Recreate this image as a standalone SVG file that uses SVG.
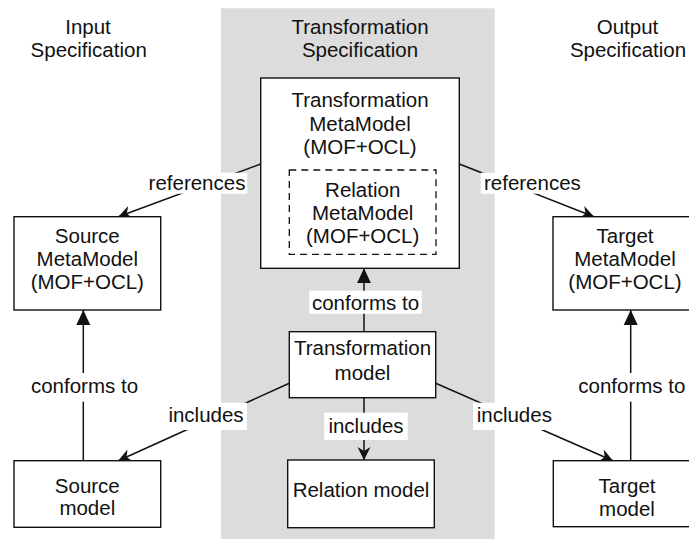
<svg xmlns="http://www.w3.org/2000/svg" width="689" height="539" viewBox="0 0 689 539">
<style>
text{font-family:"Liberation Sans",Arial,Helvetica,sans-serif;font-size:20.5px;fill:#111;text-anchor:middle}
.box{fill:#fff;stroke:#111;stroke-width:1.4}
.dash{fill:none;stroke:#111;stroke-width:1.3;stroke-dasharray:7 5}
.ln{fill:none;stroke:#111;stroke-width:1.5}
.lbl{fill:#fff}
</style>
<defs>
<marker id="tri" markerUnits="userSpaceOnUse" markerWidth="16" markerHeight="16" viewBox="0 -8 16 16" refX="15" refY="0" orient="auto">
<path d="M0,-7 L15,0 L0,7 z" fill="#111"/>
</marker>
<marker id="stealth" markerUnits="userSpaceOnUse" markerWidth="16" markerHeight="16" viewBox="0 -8 16 16" refX="13" refY="0" orient="auto">
<path d="M0,-6.5 L13,0 L0,6.5 L4,0 z" fill="#111"/>
</marker>
</defs>
<rect x="221" y="8.3" width="273.7" height="531" fill="#dcdcdc"/>
<g id="titles">
<text x="88" y="34">Input</text>
<text x="88.7" y="57.3">Specification</text>
<text x="360" y="34">Transformation</text>
<text x="360" y="57.3">Specification</text>
<text x="627.5" y="34">Output</text>
<text x="628" y="57.3">Specification</text>
</g>
<g id="connectors">
<line class="ln" x1="260.7" y1="164" x2="118.3" y2="216.7" marker-end="url(#stealth)"/>
<line class="ln" x1="459.3" y1="164" x2="594" y2="216.7" marker-end="url(#stealth)"/>
<line class="ln" x1="364" y1="331.7" x2="364" y2="268.3" marker-end="url(#tri)"/>
<line class="ln" x1="83.3" y1="460.7" x2="83.3" y2="310" marker-end="url(#tri)"/>
<line class="ln" x1="630.7" y1="460.7" x2="630.7" y2="310" marker-end="url(#tri)"/>
<line class="ln" x1="289.3" y1="383.3" x2="118.3" y2="460.7" marker-end="url(#stealth)"/>
<line class="ln" x1="435.7" y1="383.3" x2="613" y2="460.7" marker-end="url(#stealth)"/>
<line class="ln" x1="364" y1="397.7" x2="364" y2="460" marker-end="url(#stealth)"/>
<rect class="lbl" x="147.3" y="172.7" width="100" height="21"/>
<text x="197" y="190">references</text>
<rect class="lbl" x="480.7" y="172.7" width="103" height="21"/>
<text x="532.4" y="190">references</text>
<rect class="lbl" x="309.3" y="290.7" width="112.4" height="23"/>
<text x="365.5" y="310">conforms to</text>
<rect class="lbl" x="27.5" y="373" width="114" height="28.7"/>
<text x="84.5" y="393.3">conforms to</text>
<rect class="lbl" x="575" y="373" width="114" height="28.7"/>
<text x="631.8" y="393.3">conforms to</text>
<rect class="lbl" x="165" y="402.7" width="82" height="27.3"/>
<text x="206" y="421.7">includes</text>
<rect class="lbl" x="473" y="402.7" width="81" height="27.3"/>
<text x="514.3" y="421.7">includes</text>
<rect class="lbl" x="324.3" y="412.7" width="83.4" height="27.3"/>
<text x="366" y="432.7">includes</text>
</g>
<g id="tmm">
<rect class="box" x="260.7" y="78" width="198.6" height="190.3"/>
<text x="360" y="107">Transformation</text>
<text x="360" y="130.7">MetaModel</text>
<text x="360" y="154.3">(MOF+OCL)</text>
</g>
<g id="rmm">
<rect class="dash" x="289.3" y="170" width="146.7" height="84.3"/>
<text x="362.7" y="196.7">Relation</text>
<text x="362.7" y="220">MetaModel</text>
<text x="362.7" y="243.3">(MOF+OCL)</text>
</g>
<g id="smm">
<rect class="box" x="14" y="216.7" width="146.7" height="93.3"/>
<text x="87.3" y="242.7">Source</text>
<text x="87.3" y="265.7">MetaModel</text>
<text x="87.3" y="289">(MOF+OCL)</text>
</g>
<g id="tgmm">
<rect class="box" x="553" y="216.7" width="146" height="93.3"/>
<text x="625" y="242.7">Target</text>
<text x="625" y="265.7">MetaModel</text>
<text x="625" y="289">(MOF+OCL)</text>
</g>
<g id="tm">
<rect class="box" x="289.3" y="331.7" width="146.4" height="66"/>
<text x="362.5" y="355">Transformation</text>
<text x="362.5" y="380">model</text>
</g>
<g id="rm">
<rect class="box" x="287.7" y="460" width="146.6" height="67.7"/>
<text x="361" y="496.7">Relation model</text>
</g>
<g id="sm">
<rect class="box" x="14" y="460.7" width="146.7" height="66.6"/>
<text x="87.3" y="492.7">Source</text>
<text x="87.3" y="515.3">model</text>
</g>
<g id="tgm">
<rect class="box" x="553.3" y="460.7" width="146" height="66"/>
<text x="627" y="493.3">Target</text>
<text x="627" y="515.7">model</text>
</g>
</svg>
